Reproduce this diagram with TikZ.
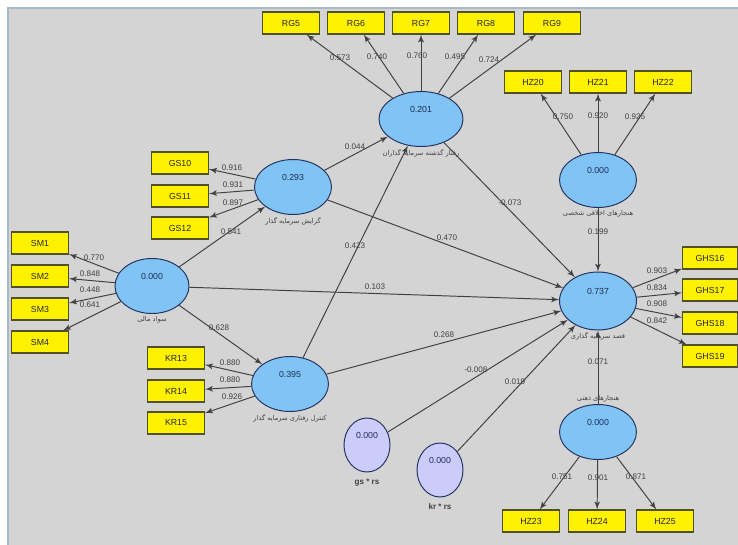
\documentclass[tikz,border=0pt]{standalone}
\usepackage{fontspec}
\setmainfont{Liberation Sans}
\newfontfamily\farsi[Script=Arabic]{DejaVu Sans}
\TeXXeTstate=1
\usetikzlibrary{arrows}
\usetikzlibrary{shapes.geometric}
\definecolor{panelgray}{RGB}{212,212,212}
\definecolor{framegray}{RGB}{170,184,198}
\definecolor{boxedge}{RGB}{80,80,35}
\definecolor{lvblue}{RGB}{128,196,246}
\definecolor{lvedge}{RGB}{35,50,95}
\definecolor{modpurple}{RGB}{204,204,250}
\definecolor{valtext}{RGB}{30,45,85}
\tikzset{ind/.style = {draw = boxedge, line width = 0.6pt, fill = yellow, minimum width = 1.14cm,
                       minimum height = 0.44cm, inner sep = 0,
                       font = \fontsize{5}{6}\selectfont, text = black!85}}
\tikzset{lv/.style = {ellipse, draw = lvedge, line width = 0.55pt, fill = lvblue, minimum width = 1.54cm,
                      minimum height = 1.1cm, inner sep = 0, text depth = 11pt,
                      font = \fontsize{5}{6}\selectfont, text = valtext}}
\tikzset{mod/.style = {lv, fill = modpurple, minimum width = 0.92cm, minimum height = 1.08cm}}
\tikzset{load/.style = {-latex', line width = 0.55pt, draw = black!75}}
\tikzset{coef/.style = {font = \fontsize{4.6}{5}\selectfont, text = black!75, inner sep = 0}}
\tikzset{fname/.style = {font = \farsi\fontsize{3.8}{4.5}\selectfont, text = black!75, inner sep = 1pt}}
\tikzset{mname/.style = {font = \fontsize{4.6}{5}\selectfont\bfseries, text = black!75}}

\begin{document}
\begin{tikzpicture}[x = 0.02cm, y = -0.02cm]
      \useasboundingbox (0, 0) rectangle (738, 545);
      \fill [white] (0, 0) rectangle (738, 545);
      \fill [panelgray] (8, 8) rectangle (738, 545);
      \draw [framegray, line width = 1pt] (8, 545) |- (738, 8);

      % latent variables
      \node [lv, minimum width = 1.68cm, label = {[fname]below:\beginR رفتار گذشته سرمایه گذاران\endR}] (rg) at (421, 119) {0.201};
      \node [lv, label = {[fname]below:\beginR هنجارهای اخلاقی شخصی\endR}] (hzm) at (598, 180) {0.000};
      \node [lv, label = {[fname]below:\beginR گرایش سرمایه گذار\endR}] (gs) at (293, 187) {0.293};
      \node [lv, minimum width = 1.48cm, label = {[fname]below:\beginR سواد مالی\endR}] (sm) at (152, 286) {0.000};
      \node [lv, minimum height = 1.16cm, label = {[fname]below:\beginR قصد سرمایه گذاری\endR}] (qs) at (598, 301) {0.737};
      \node [lv, label = {[fname]below:\beginR کنترل رفتاری سرمایه گذار\endR}] (kr) at (290, 384) {0.395};
      \node [lv, label = {[fname]above:\beginR هنجارهای ذهنی\endR}] (hzs) at (598, 432) {0.000};
      \node [mod, label = {[mname]below:gs * rs}] (gsrs) at (367, 445) {0.000};
      \node [mod, label = {[mname]below:kr * rs}] (krrs) at (440, 470) {0.000};

      % indicators
      \foreach \n/\x in {5/291, 6/356, 7/421, 8/486, 9/552}
        \node [ind] (rg\n) at (\x, 23) {RG\n};
      \foreach \n/\x in {20/533, 21/598, 22/663}
        \node [ind] (hz\n) at (\x, 82) {HZ\n};
      \foreach \n/\y in {10/163, 11/196, 12/228}
        \node [ind] (gs\n) at (180, \y) {GS\n};
      \foreach \n/\y in {1/243, 2/276, 3/309, 4/342}
        \node [ind] (sm\n) at (40, \y) {SM\n};
      \foreach \n/\y in {16/258, 17/290, 18/323, 19/356}
        \node [ind, minimum width = 1.1cm] (ghs\n) at (710, \y) {GHS\n};
      \foreach \n/\y in {13/358, 14/391, 15/423}
        \node [ind] (kr\n) at (176, \y) {KR\n};
      \foreach \n/\x in {23/531, 24/597, 25/665}
        \node [ind] (hz\n) at (\x, 521) {HZ\n};

      % outer loadings
      \foreach \b in {rg5, rg6, rg7, rg8, rg9}
        \draw [load] (rg) -- (\b);
      \foreach \b in {hz20, hz21, hz22}
        \draw [load] (hzm) -- (\b);
      \foreach \b in {gs10, gs11, gs12}
        \draw [load] (gs) -- (\b);
      \foreach \b in {sm1, sm2, sm3, sm4}
        \draw [load] (sm) -- (\b);
      \foreach \b in {ghs16, ghs17, ghs18, ghs19}
        \draw [load] (qs) -- (\b);
      \foreach \b in {kr13, kr14, kr15}
        \draw [load] (kr) -- (\b);
      \foreach \b in {hz23, hz24, hz25}
        \draw [load] (hzs) -- (\b);

      % inner model
      \draw [load] (sm) -- (gs);
      \draw [load] (sm) -- (kr);
      \draw [load] (sm) -- (qs);
      \draw [load] (gs) -- (rg);
      \draw [load] (kr) -- (rg);
      \draw [load] (gs) -- (qs);
      \draw [load] (kr) -- (qs);
      \draw [load] (rg) -- (qs);
      \draw [load] (hzm) -- (qs);
      \draw [load] (hzs) -- (qs);
      \draw [load] (gsrs) -- (qs);
      \draw [load] (krrs) -- (qs);

      % path coefficients
      \foreach \v/\x/\y in {0.573/340/58, 0.740/377/57, 0.760/417/56, 0.495/455/57, 0.724/489/60,
                           0.750/563/117, 0.920/598/116, 0.925/635/117,
                           0.916/232/168, 0.931/233/185, 0.897/233/203, 0.541/231/232,
                           0.770/94/258, 0.848/90/274, 0.448/90/290, 0.641/90/305,
                           0.628/219/328, 0.044/355/147, 0.423/355/246, 0.470/447/238,
                           0.103/375/287, 0.268/444/335, -0.073/510/203, 0.199/598/232,
                           0.903/657/271, 0.834/657/288, 0.908/657/304, 0.842/657/321,
                           0.071/598/362, -0.008/476/370, 0.019/515/382,
                           0.880/230/363, 0.880/230/380, 0.926/232/397,
                           0.751/562/477, 0.901/598/478, 0.871/636/477}
        \node [coef] (c\x-\y) at (\x, \y) {\v};
    \end{tikzpicture}
\end{document}
